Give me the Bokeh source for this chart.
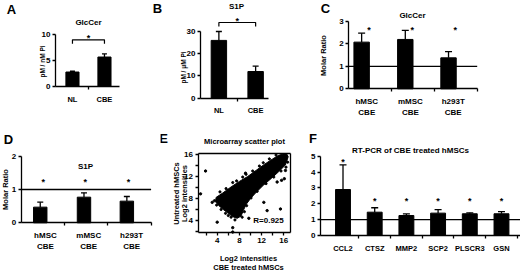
import numpy as np
from bokeh.plotting import figure
from bokeh.layouts import row, column
from bokeh.models import (Range1d, FixedTicker, Whisker, TeeHead, Label, ColumnDataSource,
                          LinearAxis)
from bokeh.core.properties import value
from bokeh.embed import file_html
from bokeh.resources import INLINE

FONT = "Liberation Sans"

# ---------------- data ----------------
a_cats = ["NL", "CBE"]
a_vals = [2.8, 5.7]
a_errs = [0.15, 0.6]
a_yticks = [0, 5, 10]

b_cats = ["NL", "CBE"]
b_vals = [26.0, 12.0]
b_errs = [4.0, 2.4]
b_yticks = [0, 10, 20, 30]

c_cats = ["hMSC\nCBE", "mMSC\nCBE", "h293T\nCBE"]
c_vals = [2.08, 2.2, 1.38]
c_errs = [0.4, 0.4, 0.28]
c_yticks = [0, 1, 2, 3]

d_cats = ["hMSC\nCBE", "mMSC\nCBE", "h293T\nCBE"]
d_vals = [0.47, 0.77, 0.65]
d_errs = [0.15, 0.13, 0.14]
d_yticks = [0, 1, 2]

e_ticks = [2, 4, 6, 8, 10, 12, 14, 16]
e_labelled = [4, 8, 12, 16]
cloud_x = [3.8, 5.0, 6.5, 8.0, 9.5, 11.0, 12.5, 14.0, 15.0, 15.8, 16.5, 16.8,
           16.3, 15.0, 13.8, 12.3, 11.0, 10.0, 9.2, 8.7, 8.3, 7.6, 6.8, 6.0, 5.1, 4.3, 3.7]
cloud_y = [8.2, 9.0, 10.1, 11.1, 12.0, 13.1, 14.2, 15.2, 15.8, 16.1, 16.15, 15.6,
           14.1, 12.8, 11.7, 10.4, 9.1, 8.0, 6.9, 5.8, 4.8, 4.4, 4.7, 5.3, 6.0, 6.7, 7.4]
fringe_x = [4.5, 5.6, 6.8, 7.5, 8.6, 9.2, 10.4, 11.6, 12.3, 13.4, 14.6,
            16.7, 16.4, 15.5, 14.2, 12.8, 11.2, 10.1, 9.3, 8.9, 8.5,
            7.2, 6.5, 5.5, 4.7, 3.9, 3.5, 6.0]
fringe_y = [9.2, 9.8, 10.9, 11.2, 11.9, 12.4, 13.0, 13.9, 14.5, 15.2, 15.9,
            14.6, 13.7, 13.0, 11.9, 10.7, 9.3, 8.1, 6.7, 5.6, 4.6,
            4.1, 4.6, 5.3, 6.0, 6.8, 7.6, 4.9]
outlier_x = [1.9, 1.0, 3.1, 4.0, 6.8, 6.8, 9.1, 13.0, 15.4, 16.3, 16.1, 14.8, 12.4, 9.7, 15.6]
outlier_y = [13.0, 8.85, 7.3, 3.7, 2.7, 1.9, 12.6, 5.8, 6.1, 13.1, 11.6, 11.0, 7.3, 4.4, 11.3]
e_r_text = "R=0.925"

f_cats = ["CCL2", "CTSZ", "MMP2", "SCP2", "PLSCR3", "GSN"]
f_vals = [2.9, 1.47, 1.26, 1.41, 1.37, 1.37]
f_errs = [1.55, 0.28, 0.1, 0.22, 0.06, 0.13]
f_yticks = [0, 1, 2, 3, 4, 5]


def style_axis(ax):
    ax.axis_line_width = 1.3
    ax.axis_line_color = "black"
    ax.major_tick_line_width = 1.3
    ax.minor_tick_line_width = 1.3
    ax.major_tick_line_color = "black"
    ax.minor_tick_line_color = "black"
    ax.major_tick_out = 3
    ax.major_tick_in = 0
    ax.minor_tick_out = 0
    ax.minor_tick_in = 0
    ax.major_label_text_font = FONT
    ax.major_label_text_font_style = "bold"
    ax.major_label_text_font_size = "8px"
    ax.major_label_text_color = "black"
    ax.major_label_standoff = 2


class Panel:
    """Canvas (cx, cy, w, h) in page px; axis area edges al/ar/at/ab in page px hold data xr/yr."""

    def __init__(self, cx, cy, w, h, al, ar, at, ab, xr, yr):
        self.cx, self.cy = cx, cy
        self.sx = (xr[1] - xr[0]) / (ar - al)
        self.sy = (yr[1] - yr[0]) / (ab - at)
        self.x0 = xr[0] - (al - cx) * self.sx
        x1 = xr[1] + (cx + w - ar) * self.sx
        y0 = yr[0] - (cy + h - ab) * self.sy
        self.y1 = yr[1] + (at - cy) * self.sy
        self.xr, self.yr = xr, yr
        p = figure(width=w, height=h, x_range=Range1d(self.x0, x1), y_range=Range1d(y0, self.y1),
                   output_backend="svg", toolbar_location=None, title=None, min_border=0,
                   x_axis_location=None, y_axis_location=None)
        p.grid.visible = False
        p.outline_line_color = None
        p.background_fill_color = "white"
        p.border_fill_color = "white"
        self.xaxis = LinearAxis(fixed_location=yr[0], bounds=xr)
        self.yaxis = LinearAxis(fixed_location=xr[0], bounds=yr)
        style_axis(self.xaxis)
        style_axis(self.yaxis)
        p.add_layout(self.xaxis, "below")
        p.add_layout(self.yaxis, "left")
        self.p = p

    def dx(self, px):
        return self.x0 + (px - self.cx) * self.sx

    def dy(self, py):
        return self.y1 - (py - self.cy) * self.sy

    def label(self, px, py, text, size="8px", angle=0.0, style="bold"):
        self.p.add_layout(Label(x=self.dx(px), y=self.dy(py), text=text, text_font=FONT,
                                text_font_size=size, text_font_style=style, angle=angle,
                                text_align="center", text_baseline="middle", text_color="black"))

    def stars(self, xs, ys):
        self.p.text(x=xs, y=ys, text=["*"] * len(xs), text_font=value(FONT),
                    text_font_size=value("9px"), text_font_style="bold",
                    text_align="center", text_baseline="middle", text_color="black")

    def refline(self, yv):
        self.p.segment(x0=[self.xr[0]], x1=[self.xr[1]], y0=[yv], y1=[yv],
                       line_color="black", line_width=1.3)


def bars(panel, xs, vals, errs, width, cap=6):
    p = panel.p
    p.vbar(x=xs, top=vals, bottom=0, width=width, fill_color="black", line_color="black")
    src = ColumnDataSource(dict(x=xs, top=vals, upper=[v + e for v, e in zip(vals, errs)]))
    p.add_layout(Whisker(source=src, base="x", lower="top", upper="upper", dimension="height",
                         line_color="black", line_width=1.3,
                         upper_head=TeeHead(size=cap, line_width=1.3, line_color="black"),
                         lower_head=None))


def cat_axis(panel, label_pos, labels, boundaries, size="7.5px"):
    ax = panel.xaxis
    ax.ticker = FixedTicker(ticks=label_pos, minor_ticks=boundaries)
    ax.major_label_overrides = {float(t): l for t, l in zip(label_pos, labels)}
    ax.major_tick_out = 0
    ax.minor_tick_out = 3
    ax.major_label_text_font_size = size
    ax.major_label_standoff = 5


def bracket(panel, x0, x1, ytop, ybot):
    panel.p.line(x=[x0, x0, x1, x1], y=[ybot, ytop, ytop, ybot], line_color="black", line_width=1.2)


TOP_H = 130
BOT_Y = TOP_H
BOT_H = 271 - TOP_H

# ---------------- Panel A ----------------
A = Panel(0, 0, 150, TOP_H, 55, 119, 34.3, 86, (0.47, 2.47), (0, 10))
a_x = [1, 2]
bars(A, a_x, a_vals, a_errs, 0.41, cap=5)
cat_axis(A, a_x, a_cats, [1.5])
A.yaxis.ticker = FixedTicker(ticks=a_yticks)
bracket(A, a_x[0], a_x[1], A.dy(39.3), A.dy(43.3))
A.stars([1.5], [A.dy(37.5)])
A.label(11, 9, "A", size="13px")
A.label(88, 21.5, "GlcCer", size="8px")
A.label(42, 61, "pM / nM Pi", size="6.5px", angle=np.pi / 2)

# ---------------- Panel B ----------------
B = Panel(150, 0, 120, TOP_H, 200, 268, 31, 97.7, (0.5, 2.35), (0, 30))
b_x = [1, 2]
bars(B, b_x, b_vals, b_errs, 0.42, cap=6)
cat_axis(B, b_x, b_cats, [1.5])
B.yaxis.ticker = FixedTicker(ticks=b_yticks)
bracket(B, b_x[0], b_x[1], B.dy(22), B.dy(26))
B.stars([1.5], [B.dy(20)])
B.label(157, 8, "B", size="13px")
B.label(236, 6, "S1P", size="8px")
B.label(183, 67, "pM / \u03bcM Pi", size="6.5px", angle=np.pi / 2)

# ---------------- Panel C ----------------
C = Panel(270, 0, 250, TOP_H, 348.3, 476.7, 21, 88.3, (0, 3), (0, 3))
c_x = [0.30, 1.32, 2.33]
c_lab = [0.42, 1.44, 2.44]
bars(C, c_x, c_vals, c_errs, 0.36, cap=7)
cat_axis(C, c_lab, c_cats, [1, 2, 3], size="8px")
C.yaxis.ticker = FixedTicker(ticks=c_yticks)
C.refline(1)
C.stars([0.47, 1.48, 2.49], [C.dy(29)] * 3)
C.label(325, 8, "C", size="13px")
C.label(412, 15, "GlcCer", size="8px")
C.label(323, 55, "Molar Ratio", size="7.5px", angle=np.pi / 2)

# ---------------- Panel D ----------------
D = Panel(0, BOT_Y, 160, BOT_H, 20.7, 150.6, 155.7, 222.3, (0, 3), (0, 2))
d_x = [0.44, 1.45, 2.44]
d_lab = [0.56, 1.56, 2.55]
bars(D, d_x, d_vals, d_errs, 0.31, cap=6)
cat_axis(D, d_lab, d_cats, [1, 2, 3], size="8px")
D.yaxis.ticker = FixedTicker(ticks=d_yticks)
D.refline(1)
D.stars([0.51, 1.48, 2.48], [D.dy(181)] * 3)
D.label(8, 139, "D", size="13px")
D.label(85, 166, "S1P", size="8px")
D.label(5, 189, "Molar Ratio", size="7.5px", angle=np.pi / 2)

# ---------------- Panel E ----------------
E = Panel(160, BOT_Y, 145, BOT_H, 197.5, 289.5, 153, 232, (0.54, 17.12), (1.82, 16.18))
pe = E.p
pe.patch(cloud_x, cloud_y, fill_color="black", line_color="black", line_width=1)
pe.scatter(fringe_x, fringe_y, size=2.2, color="black")
pe.scatter(outlier_x, outlier_y, size=2.4, color="black")
for ax in (E.xaxis, E.yaxis):
    ax.ticker = FixedTicker(ticks=e_ticks)
    ax.major_label_overrides = {float(t): (str(t) if t in e_labelled else "") for t in e_ticks}
for loc, fixed, bnds in (("above", E.yr[1], E.xr), ("right", E.xr[1], E.yr)):
    bx = LinearAxis(fixed_location=fixed, bounds=bnds, ticker=FixedTicker(ticks=[]))
    style_axis(bx)
    bx.major_tick_out = 0
    pe.add_layout(bx, loc)
E.label(163, 138, "E", size="13px")
E.label(244, 141, "Microarray scatter plot", size="7.5px")
E.label(176, 193, "Untreated hMSCs", size="7.5px", angle=np.pi / 2)
E.label(183.5, 193, "Log2 intensities", size="7.5px", angle=np.pi / 2)
E.label(248, 258, "Log2 intensities", size="7.5px")
E.label(248, 267, "CBE treated hMSCs", size="7.5px")
E.label(268, 219.5, e_r_text, size="8px")

# ---------------- Panel F ----------------
F = Panel(305, BOT_Y, 215, BOT_H, 320, 520, 155.7, 235, (0.29, 6.6), (0, 5))
f_x = [1, 2, 3, 4, 5, 6]
bars(F, f_x, f_vals, f_errs, 0.47, cap=7)
cat_axis(F, f_x, f_cats, [1.5, 2.5, 3.5, 4.5, 5.5, 6.5], size="7.5px")
F.yaxis.ticker = FixedTicker(ticks=f_yticks)
F.refline(1)
F.stars(f_x, [F.dy(161)] + [F.dy(200)] * 5)
F.label(312.5, 137.5, "F", size="13px")
F.label(410, 150, "RT-PCR of CBE treated hMSCs", size="8px")

layout = column(row(A.p, B.p, C.p), row(D.p, E.p, F.p))
open("out.html", "w").write(file_html(layout, INLINE))
